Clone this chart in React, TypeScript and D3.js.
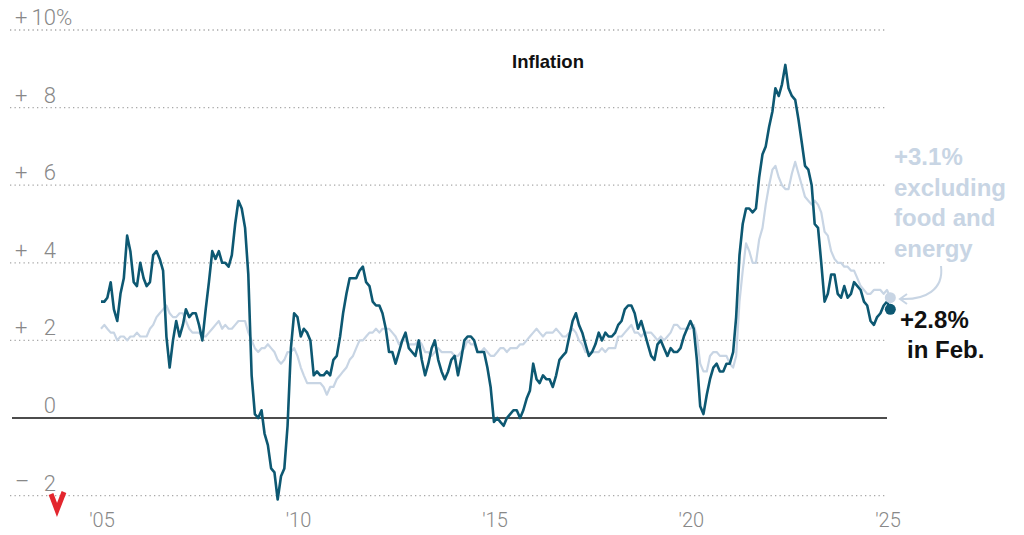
import React, { useEffect, useRef } from 'react';
import * as d3 from 'd3';

// Year-over-year change in the Consumer Price Index, monthly, Jan 2005 - Feb 2025
const startYear = 2005;

const headline = [
  3.0, 3.0, 3.1, 3.5, 2.8, 2.5, 3.2, 3.6, 4.7, 4.3, 3.5, 3.4,
  4.0, 3.6, 3.4, 3.5, 4.2, 4.3, 4.1, 3.8, 2.1, 1.3, 2.0, 2.5,
  2.1, 2.4, 2.8, 2.6, 2.7, 2.7, 2.4, 2.0, 2.8, 3.5, 4.3, 4.1,
  4.3, 4.0, 4.0, 3.9, 4.2, 5.0, 5.6, 5.4, 4.9, 3.7, 1.1, 0.1,
  0.0, 0.2, -0.4, -0.7, -1.3, -1.4, -2.1, -1.5, -1.3, -0.2, 1.8, 2.7,
  2.6, 2.1, 2.3, 2.2, 2.0, 1.1, 1.2, 1.1, 1.1, 1.2, 1.1, 1.5,
  1.6, 2.1, 2.7, 3.2, 3.6, 3.6, 3.6, 3.8, 3.9, 3.5, 3.4, 3.0,
  2.9, 2.9, 2.7, 2.3, 1.7, 1.7, 1.4, 1.7, 2.0, 2.2, 1.8, 1.7,
  1.6, 2.0, 1.5, 1.1, 1.4, 1.8, 2.0, 1.5, 1.2, 1.0, 1.2, 1.5,
  1.6, 1.1, 1.5, 2.0, 2.1, 2.1, 2.0, 1.7, 1.7, 1.7, 1.3, 0.8,
  -0.1, 0.0, -0.1, -0.2, 0.0, 0.1, 0.2, 0.2, 0.0, 0.2, 0.5, 0.7,
  1.4, 1.0, 0.9, 1.1, 1.0, 1.0, 0.8, 1.1, 1.5, 1.6, 1.7, 2.1,
  2.5, 2.7, 2.4, 2.2, 1.9, 1.6, 1.7, 1.9, 2.2, 2.0, 2.2, 2.1,
  2.1, 2.2, 2.4, 2.5, 2.8, 2.9, 2.9, 2.7, 2.3, 2.5, 2.2, 1.9,
  1.6, 1.5, 1.9, 2.0, 1.8, 1.6, 1.8, 1.7, 1.7, 1.8, 2.1, 2.3,
  2.5, 2.3, 1.5, 0.3, 0.1, 0.6, 1.0, 1.3, 1.4, 1.2, 1.2, 1.4,
  1.4, 1.7, 2.6, 4.2, 5.0, 5.4, 5.4, 5.3, 5.4, 6.2, 6.8, 7.0,
  7.5, 7.9, 8.5, 8.3, 8.6, 9.1, 8.5, 8.3, 8.2, 7.7, 7.1, 6.5,
  6.4, 6.0, 5.0, 4.9, 4.0, 3.0, 3.2, 3.7, 3.7, 3.2, 3.1, 3.4,
  3.1, 3.2, 3.5, 3.4, 3.3, 3.0, 2.9, 2.5, 2.4, 2.6, 2.7, 2.9,
  3.0, 2.8,
];

// Excluding food and energy
const core = [
  2.3, 2.4, 2.3, 2.2, 2.2, 2.0, 2.1, 2.1, 2.0, 2.1, 2.1, 2.2,
  2.1, 2.1, 2.1, 2.3, 2.4, 2.6, 2.7, 2.8, 2.9, 2.7, 2.6, 2.6,
  2.7, 2.7, 2.5, 2.3, 2.2, 2.2, 2.2, 2.1, 2.1, 2.2, 2.3, 2.4,
  2.5, 2.3, 2.4, 2.3, 2.3, 2.4, 2.5, 2.5, 2.5, 2.2, 2.0, 1.8,
  1.7, 1.8, 1.8, 1.9, 1.8, 1.7, 1.5, 1.4, 1.5, 1.7, 1.7, 1.8,
  1.6, 1.3, 1.1, 0.9, 0.9, 0.9, 0.9, 0.9, 0.8, 0.6, 0.8, 0.8,
  1.0, 1.1, 1.2, 1.3, 1.5, 1.6, 1.8, 2.0, 2.0, 2.1, 2.2, 2.2,
  2.3, 2.2, 2.3, 2.3, 2.3, 2.2, 2.1, 1.9, 2.0, 2.0, 1.9, 1.9,
  1.9, 2.0, 1.9, 1.7, 1.7, 1.6, 1.7, 1.8, 1.7, 1.7, 1.7, 1.7,
  1.6, 1.6, 1.7, 1.8, 2.0, 1.9, 1.9, 1.7, 1.7, 1.8, 1.7, 1.6,
  1.6, 1.7, 1.8, 1.8, 1.7, 1.8, 1.8, 1.8, 1.9, 1.9, 2.0, 2.1,
  2.2, 2.3, 2.2, 2.1, 2.2, 2.2, 2.2, 2.3, 2.2, 2.1, 2.1, 2.2,
  2.3, 2.2, 2.0, 1.9, 1.7, 1.7, 1.7, 1.7, 1.7, 1.8, 1.7, 1.8,
  1.8, 1.8, 2.1, 2.1, 2.2, 2.3, 2.4, 2.2, 2.2, 2.1, 2.2, 2.2,
  2.2, 2.1, 2.0, 2.1, 2.0, 2.1, 2.2, 2.4, 2.4, 2.3, 2.3, 2.3,
  2.3, 2.4, 2.1, 1.4, 1.2, 1.2, 1.6, 1.7, 1.7, 1.6, 1.6, 1.6,
  1.4, 1.3, 1.6, 3.0, 3.8, 4.5, 4.3, 4.0, 4.0, 4.6, 4.9, 5.5,
  6.0, 6.4, 6.5, 6.2, 6.0, 5.9, 5.9, 6.3, 6.6, 6.3, 6.0, 5.7,
  5.6, 5.5, 5.6, 5.5, 5.3, 4.8, 4.7, 4.3, 4.1, 4.0, 4.0, 3.9,
  3.9, 3.8, 3.8, 3.6, 3.4, 3.3, 3.2, 3.2, 3.3, 3.3, 3.3, 3.2,
  3.3, 3.1,
];

const yTicks = [10, 8, 6, 4, 2, 0, -2];
const xTicks = [2005, 2010, 2015, 2020, 2025];
const xTickLabels = ["'05", "'10", "'15", "'20", "'25"];
const coreLabel = ['+3.1%', 'excluding', 'food and', 'energy'];
const headLabel = ['+2.8%', 'in Feb.'];

const W = 1024;
const H = 535;
const DARK = '#0d5872';
const LIGHT = '#c8d5e4';
const GRAY = '#888888';
const FONT = "'Liberation Sans', Arial, sans-serif";
const LIGHTFONT = "Roboto, 'Liberation Sans', sans-serif";

const App: React.FC = () => {
  const svgRef = useRef<SVGSVGElement>(null);

  useEffect(() => {
    if (!svgRef.current) return;
    const svg = d3.select(svgRef.current);
    svg.selectAll('*').remove();

    const toDate = (i: number) => new Date(startYear, i, 1);

    const x = d3
      .scaleTime()
      .domain([new Date(2005, 0, 1), new Date(2025, 0, 1)])
      .range([101, 887]);
    const y = d3.scaleLinear().domain([-2, 10]).range([495.6, 30]);

    // Gridlines
    const grid = svg.append('g');
    yTicks.forEach(t => {
      if (t === 0) return;
      grid
        .append('line')
        .attr('x1', 10)
        .attr('x2', 886)
        .attr('y1', y(t))
        .attr('y2', y(t))
        .attr('stroke', '#a8a8a8')
        .attr('stroke-width', 1.3)
        .attr('stroke-dasharray', '1.3 3.2');
    });

    // Y labels: sign at left, number right-aligned
    const yl = svg
      .append('g')
      .style('font-family', LIGHTFONT)
      .style('font-size', '22px')
      .style('font-weight', 300)
      .attr('fill', GRAY);
    yTicks.forEach(t => {
      const ty = y(t) - 5;
      if (t !== 0) {
        yl.append('text')
          .attr('x', 15)
          .attr('y', t < 0 ? ty - 2 : ty)
          .text(t > 0 ? '+' : '\u2013');
      }
      yl.append('text')
        .attr('x', 56)
        .attr('y', ty)
        .attr('text-anchor', 'end')
        .text(Math.abs(t));
      if (t === 10) {
        yl.append('text').attr('x', 56).attr('y', ty).text('%');
      }
    });

    // X labels
    const xl = svg
      .append('g')
      .style('font-family', LIGHTFONT)
      .style('font-size', '20px')
      .style('font-weight', 300)
      .attr('fill', GRAY);
    xTicks.forEach((yr, i) => {
      xl.append('text')
        .attr('x', x(new Date(yr, 0, 1)) + 1)
        .attr('y', 527)
        .attr('text-anchor', 'middle')
        .text(xTickLabels[i]);
    });

    // Title
    svg
      .append('text')
      .attr('x', 548)
      .attr('y', 68)
      .attr('text-anchor', 'middle')
      .style('font-family', FONT)
      .style('font-size', '18.5px')
      .style('font-weight', 'bold')
      .attr('fill', '#111')
      .text('Inflation');

    const line = d3
      .line<number>()
      .x((_, i) => x(toDate(i)))
      .y(d => y(d))
      .curve(d3.curveLinear);

    svg
      .append('path')
      .attr('d', line(core) || '')
      .attr('fill', 'none')
      .attr('stroke', LIGHT)
      .attr('stroke-width', 2.2)
      .attr('stroke-linejoin', 'round');

    // Zero line
    svg
      .append('line')
      .attr('x1', 12)
      .attr('x2', 887)
      .attr('y1', y(0))
      .attr('y2', y(0))
      .attr('stroke', '#111')
      .attr('stroke-width', 1.5);

    svg
      .append('path')
      .attr('d', line(headline) || '')
      .attr('fill', 'none')
      .attr('stroke', DARK)
      .attr('stroke-width', 2.6)
      .attr('stroke-linejoin', 'round');

    // End dots
    const last = headline.length - 1;
    svg
      .append('circle')
      .attr('cx', x(toDate(core.length - 1)))
      .attr('cy', y(core[core.length - 1]))
      .attr('r', 5.5)
      .attr('fill', LIGHT);
    svg
      .append('circle')
      .attr('cx', x(toDate(last)))
      .attr('cy', y(headline[last]))
      .attr('r', 5.5)
      .attr('fill', DARK);

    // Annotations
    const ca = svg
      .append('text')
      .style('font-family', FONT)
      .style('font-size', '24px')
      .style('font-weight', 'bold')
      .attr('fill', LIGHT);
    coreLabel.forEach((s, i) => {
      ca.append('tspan').attr('x', 894).attr('y', 165 + i * 30.7).text(s);
    });

    const ha = svg
      .append('text')
      .style('font-family', FONT)
      .style('font-size', '24px')
      .style('font-weight', 'bold')
      .attr('fill', '#111');
    ha.append('tspan').attr('x', 900).attr('y', 328).text(headLabel[0]);
    ha.append('tspan').attr('x', 907).attr('y', 358).text(headLabel[1]);

    // Arrow from label to core dot
    svg
      .append('path')
      .attr('d', 'M941,266 C944,290 925,300 901,299')
      .attr('fill', 'none')
      .attr('stroke', LIGHT)
      .attr('stroke-width', 2);
    svg
      .append('path')
      .attr('d', 'M907,294 L900,299 L907,304')
      .attr('fill', 'none')
      .attr('stroke', LIGHT)
      .attr('stroke-width', 2);

    // Corner mark (red check)
    svg
      .append('path')
      .attr('d', 'M51,494 L57,510 L64,492')
      .attr('fill', 'none')
      .attr('stroke', '#e3262e')
      .attr('stroke-width', 5)
      .attr('stroke-linejoin', 'miter');
  }, []);

  return (
    <svg
      ref={svgRef}
      width={W}
      height={H}
      style={{ position: 'absolute', left: 0, top: 0, background: '#fff' }}
    />
  );
};

export default App;
